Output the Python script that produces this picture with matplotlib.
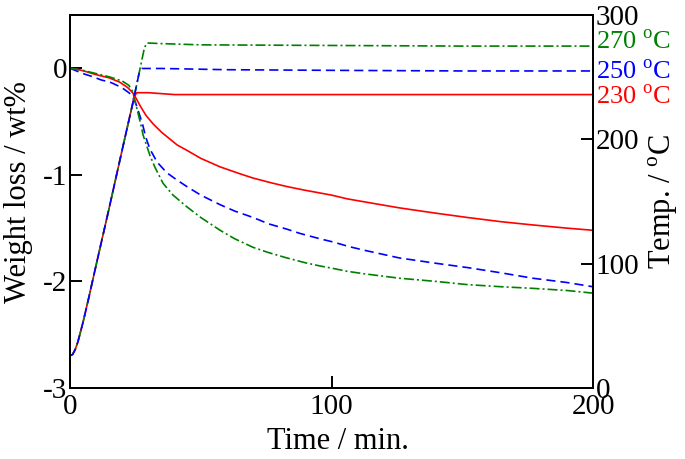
import matplotlib
matplotlib.use('Agg')
import matplotlib.pyplot as plt

plt.rcParams['font.family'] = ['Liberation Serif', 'DejaVu Serif']
plt.rcParams['mathtext.fontset'] = 'custom'
plt.rcParams['mathtext.rm'] = 'Liberation Serif'
plt.rcParams['axes.unicode_minus'] = False

# --- weight loss (wt%) vs time (min) ---
t_red = [0, 3, 6, 10, 15, 19, 22, 24, 25, 27, 29, 31.7, 35, 38, 41, 44.7, 50, 57.4, 65, 70,
         77, 83, 90, 95.6, 100, 106, 113, 126, 140, 152, 165, 177, 190, 200]
w_red = [0, -0.01, -0.03, -0.06, -0.09, -0.13, -0.18, -0.23, -0.27, -0.36, -0.44, -0.52,
         -0.60, -0.66, -0.72, -0.77, -0.845, -0.925, -0.99, -1.03, -1.075, -1.11, -1.145,
         -1.17, -1.19, -1.225, -1.255, -1.31, -1.36, -1.40, -1.44, -1.47, -1.50, -1.52]

t_blue = [0, 2, 5, 8.8, 12, 15.3, 18, 20.3, 22, 23.6, 25, 26.5, 27.8, 29, 30.6, 33.3, 37,
          41, 44.7, 50, 57.4, 63, 70, 76, 83, 88, 95.6, 100.6, 107, 113, 126, 140, 152, 165,
          177, 190, 200]
w_blue = [0, -0.02, -0.05, -0.08, -0.11, -0.13, -0.16, -0.19, -0.22, -0.25, -0.32, -0.43,
          -0.53, -0.65, -0.76, -0.88, -0.98, -1.05, -1.11, -1.19, -1.28, -1.34, -1.40, -1.46,
          -1.51, -1.55, -1.60, -1.63, -1.675, -1.71, -1.78, -1.83, -1.87, -1.92, -1.97,
          -2.01, -2.05]

t_green = [0, 5, 10, 15, 20, 22.5, 24, 25.5, 27, 28, 30.6, 32.5, 35.6, 39.4, 44.7, 50, 57.4,
           63, 70, 76, 83, 90, 95.6, 100, 106, 113, 126, 140, 152, 165, 177, 190, 200]
w_green = [0, -0.02, -0.05, -0.08, -0.12, -0.16, -0.22, -0.37, -0.52, -0.63, -0.82, -0.93,
           -1.08, -1.19, -1.30, -1.40, -1.52, -1.60, -1.68, -1.73, -1.78, -1.825, -1.855,
           -1.875, -1.905, -1.93, -1.97, -2.00, -2.03, -2.05, -2.065, -2.085, -2.11]

# --- temperature (degC) vs time (min) ---
tT_red = [0, 1, 2, 3, 4, 5, 7, 10, 15, 20, 24, 24.5, 25.5, 30, 40, 60, 100, 150, 200]
T_red = [26, 27, 31, 37, 45, 53, 71, 99, 145, 192, 229, 234, 237.5, 237.5, 236, 236, 236, 236, 236]

tT_blue = [0, 1, 2, 3, 4, 5, 7, 10, 15, 20, 24, 26.5, 27.5, 35, 60, 100, 150, 200]
T_blue = [26, 27, 31, 37, 45, 53, 71, 99, 145, 192, 229, 254, 257, 257, 256, 255.5, 255, 255]

tT_green = [0, 1, 2, 3, 4, 5, 7, 10, 15, 20, 24, 28.5, 29.5, 35, 50, 100, 150, 200]
T_green = [26, 27, 31, 37, 45, 53, 71, 99, 145, 192, 229, 274, 277.5, 277, 276, 275.5, 275, 275]

labels = ['230 $^{\\mathregular{o}}$C', '250 $^{\\mathregular{o}}$C', '270 $^{\\mathregular{o}}$C']
label_T = [234, 254, 278]
colors = ['#ff0000', '#0000ff', '#008000']

fig = plt.figure(figsize=(6.85, 4.59), dpi=100)
ax = fig.add_axes([0.1022, 0.1547, 0.7635, 0.8126])
ax2 = ax.twinx()

lw = 1.2
dash = (5.5, 3)
dashdot = (6, 1.8, 1.2, 1.8)

ax.plot(t_red, w_red, color=colors[0], lw=lw)
ax.plot(t_blue, w_blue, color=colors[1], lw=lw, dashes=dash)
ax.plot(t_green, w_green, color=colors[2], lw=lw, dashes=dashdot)

ax2.plot(tT_red, T_red, color=colors[0], lw=lw)
ax2.plot(tT_green, T_green, color=colors[2], lw=lw, dashes=dashdot)
ax2.plot(tT_blue, T_blue, color=colors[1], lw=lw, dashes=dash)

ax.set_xlim(0, 200)
ax.set_ylim(-3, 0.5)
ax2.set_ylim(0, 300)
ax.set_xticks([0, 100, 200])
ax.set_yticks([0, -1, -2, -3])
ax2.set_yticks([0, 100, 200, 300])

for a in (ax, ax2):
    a.tick_params(direction='in', length=8.5, width=1.4, labelsize=21, pad=2)
    for s in a.spines.values():
        s.set_linewidth(1.4)
ax.tick_params(axis='x', pad=4)

ax.set_xlabel('Time / min.', fontsize=22)
ax.xaxis.set_label_coords(0.512, -0.105)
ax.set_ylabel('Weight loss / wt%', fontsize=22)
ax.yaxis.set_label_coords(-0.07, 0.525)
ax2.set_ylabel('Temp. / $^{\\mathregular{o}}$C', fontsize=22)
ax2.yaxis.set_label_coords(1.103, 0.5)

for lab, T, c in zip(labels, label_T, colors):
    ax2.annotate(lab, xy=(1, T), xycoords=('axes fraction', 'data'), xytext=(2, 0),
                 textcoords='offset points', va='center', ha='left', color=c, fontsize=19)

fig.savefig('out.png', dpi=100)
